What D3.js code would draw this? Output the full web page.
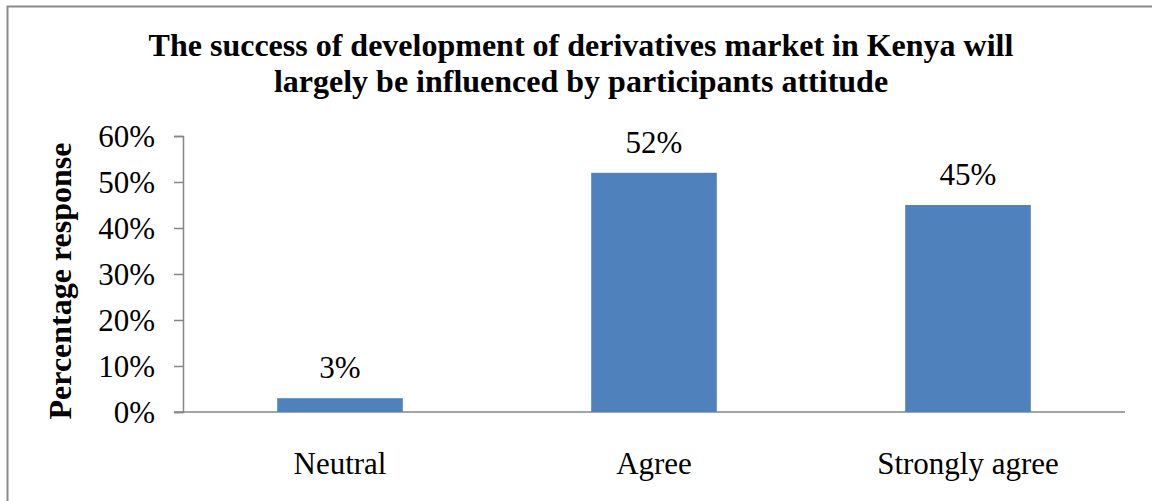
<!DOCTYPE html>
<html>
<head>
<meta charset="utf-8">
<script src="https://cdn.jsdelivr.net/npm/d3@7"></script>
<style>
  html, body { margin: 0; padding: 0; background: #fff; }
  svg { display: block; }
  text { font-family: "Liberation Serif", "Times New Roman", serif; fill: #000; }
</style>
</head>
<body>
<svg id="chart" width="1152" height="501"></svg>
<script>
// Survey responses
const categories = ["Neutral", "Agree", "Strongly agree"];
const values = [0.03, 0.52, 0.45];
const valueLabels = ["3%", "52%", "45%"];
const yTicks = [0, 0.1, 0.2, 0.3, 0.4, 0.5, 0.6];
const titleLines = [
  "The success of development of derivatives market in Kenya will",
  "largely be influenced by participants attitude"
];
const yTitle = "Percentage response";

const svg = d3.select("#chart");
const plot = { left: 183, right: 1125, top: 136, bottom: 412 };

// Chart frame (runs off the right and bottom edges)
svg.append("rect")
  .attr("x", 7.5).attr("y", 6.5)
  .attr("width", 1300).attr("height", 700)
  .attr("fill", "none")
  .attr("stroke", "#8a8a8a")
  .attr("stroke-width", 2);

const x = d3.scaleBand()
  .domain(categories)
  .range([plot.left, plot.right])
  .paddingInner(0.6)
  .paddingOuter(0.3);

const y = d3.scaleLinear()
  .domain([0, 0.6])
  .range([plot.bottom, plot.top]);

// Title
svg.append("text")
  .attr("text-anchor", "middle")
  .style("font-weight", "bold")
  .style("font-size", "32px")
  .selectAll("tspan")
  .data(titleLines)
  .join("tspan")
  .attr("x", 581)
  .attr("y", (d, i) => 56 + i * 36)
  .text(d => d);

// Y axis
const yAxis = svg.append("g")
  .attr("transform", `translate(${plot.left},0)`)
  .call(d3.axisLeft(y)
    .tickValues(yTicks)
    .tickFormat(d3.format(".0%"))
    .tickSize(9)
    .tickPadding(19));
yAxis.select(".domain").attr("stroke", "#868686").attr("stroke-width", 1.5);
yAxis.selectAll(".tick line").attr("stroke", "#868686").attr("stroke-width", 1.5);
yAxis.selectAll(".tick text")
  .style("font-family", '"Liberation Serif", "Times New Roman", serif')
  .style("font-size", "31px")
  .attr("fill", "#000")
  .attr("dy", "0.34em");

// X axis baseline
const xAxis = svg.append("g")
  .attr("transform", `translate(0,${plot.bottom})`)
  .call(d3.axisBottom(x).tickSize(0).tickPadding(40));
xAxis.select(".domain")
  .attr("d", `M${plot.left - 9},0H${plot.right}`)
  .attr("stroke", "#868686").attr("stroke-width", 1.5);
xAxis.selectAll(".tick text")
  .style("font-family", '"Liberation Serif", "Times New Roman", serif')
  .style("font-size", "31px")
  .attr("fill", "#000")
  .attr("dy", "0.71em");

// Y axis title
svg.append("text")
  .attr("transform", `translate(71,281) rotate(-90)`)
  .attr("text-anchor", "middle")
  .style("font-weight", "bold")
  .style("font-size", "32px")
  .text(yTitle);

// Bars
svg.append("g")
  .selectAll("rect")
  .data(values)
  .join("rect")
  .attr("x", (d, i) => x(categories[i]))
  .attr("y", d => y(d))
  .attr("width", x.bandwidth())
  .attr("height", d => y(0) - y(d))
  .attr("fill", "#4f81bd");

// Value labels
svg.append("g")
  .selectAll("text")
  .data(values)
  .join("text")
  .attr("x", (d, i) => x(categories[i]) + x.bandwidth() / 2)
  .attr("y", d => y(d) - 20)
  .attr("text-anchor", "middle")
  .style("font-size", "31px")
  .text((d, i) => valueLabels[i]);
</script>
</body>
</html>
